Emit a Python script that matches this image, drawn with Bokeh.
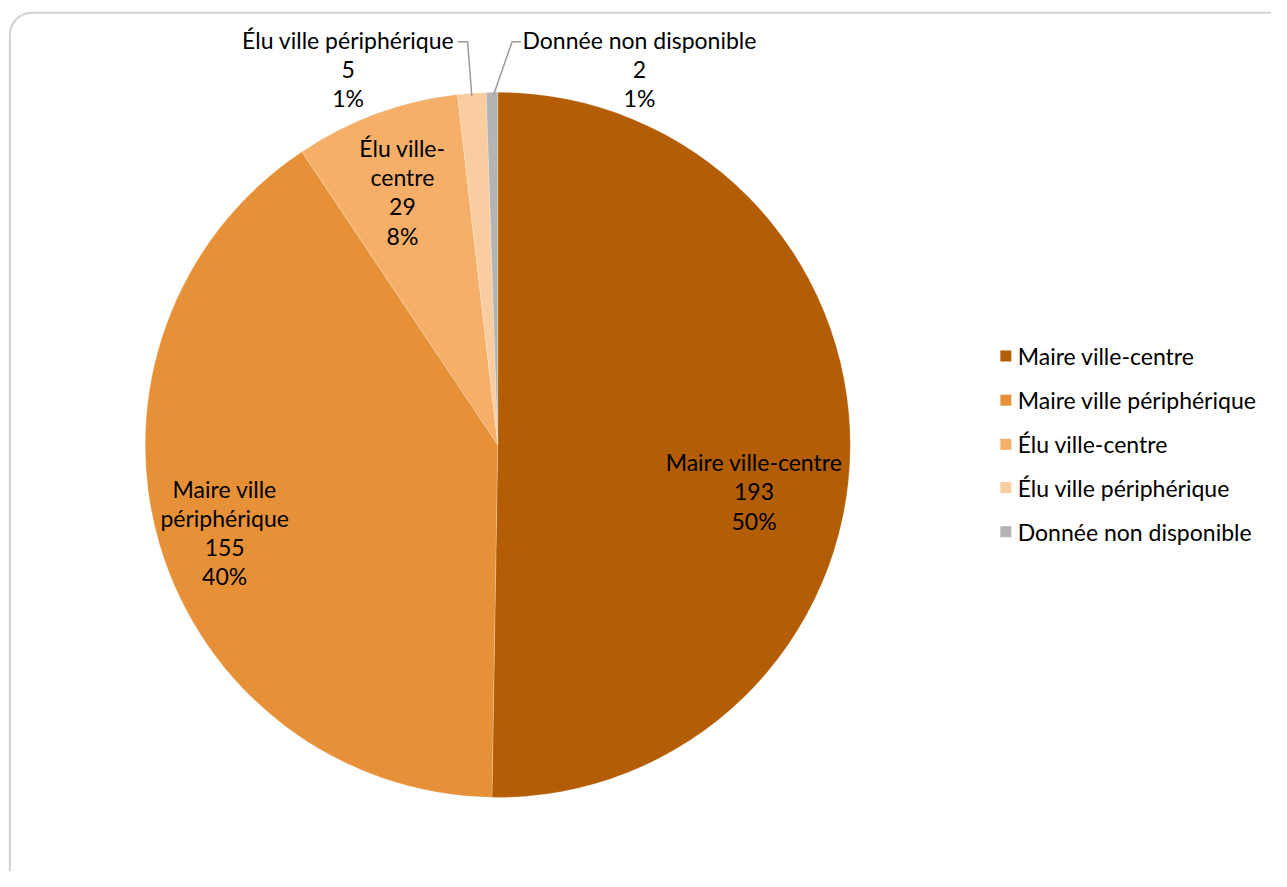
import math
from bokeh.plotting import figure
from bokeh.models import Range1d, ColumnDataSource
from bokeh.core.properties import value
from bokeh.embed import file_html
from bokeh.resources import INLINE

# ---- data ----
categories = ["Maire ville-centre", "Maire ville périphérique", "Élu ville-centre",
              "Élu ville périphérique", "Donnée non disponible"]
counts = [193, 155, 29, 5, 2]
colors = ["#B35D05", "#E69138", "#F5AF69", "#F9CDA0", "#B4B4B4"]
slice_label_lines = [["Maire ville-centre"], ["Maire ville", "périphérique"],
                     ["Élu ville-", "centre"], ["Élu ville périphérique"],
                     ["Donnée non disponible"]]

# ---- layout (reference pixel coordinates, scaled to canvas) ----
W, H = 1271, 871
REF_W, REF_H = 1287, 887
SX, SY = W / REF_W, H / REF_H
FONT = "Lato"
FS = "23px"
def px(x):
    return x * SX
def py(y):
    return H - y * SY

CX, CY, R = 503.5, 452.5, 357
label_pos = [(763, 470), (227, 497), (407, 150), (352, 40), (647, 40)]
LINE_H = 29.8

total = sum(counts)
pcts = [f"{round(c / total * 100)}%" for c in counts]

p = figure(width=W, height=H, output_backend="svg", toolbar_location=None,
           x_range=Range1d(0, W), y_range=Range1d(0, H),
           x_axis_location=None, y_axis_location=None, min_border=0)
p.grid.visible = False
p.outline_line_color = None
p.background_fill_color = "white"
p.border_fill_color = "white"

# frame (rounded corner, clipped at right/bottom)
fr_l, fr_t, rad = px(9.5), py(12.5), 22
fc = "#d2d2d2"
p.line([fr_l, fr_l], [fr_t - rad, -20], line_color=fc, line_width=2)
p.line([fr_l + rad, W + 20], [fr_t, fr_t], line_color=fc, line_width=2)
p.arc(x=fr_l + rad, y=fr_t - rad, radius=rad, start_angle=math.pi / 2, end_angle=math.pi,
      line_color=fc, line_width=2)

# wedges
cum = [0]
for c in counts:
    cum.append(cum[-1] + c)
starts = [math.pi / 2 - cum[i + 1] / total * 2 * math.pi for i in range(len(counts))]
ends = [math.pi / 2 - cum[i] / total * 2 * math.pi for i in range(len(counts))]
src = ColumnDataSource(dict(start=starts, end=ends, color=colors))
p.wedge(x=px(CX), y=py(CY), radius=R * SX, start_angle="start", end_angle="end",
        direction="anticlock", fill_color="color", line_color="white", line_width=0.5,
        line_alpha=0.4, source=src)

# leader lines for small slices
def edge_point(i):
    mid = (cum[i] + cum[i + 1]) / 2 / total
    th = mid * 2 * math.pi
    return CX + R * math.sin(th), CY - R * math.cos(th)

lc = "#9a9a9a"
ex, ey = edge_point(3)
p.line([px(463), px(473), px(ex)], [py(42), py(42), py(ey + 1)], line_color=lc, line_width=1.5)
ex, ey = edge_point(4)
p.line([px(527), px(518), px(ex + 1.5)], [py(42), py(42), py(ey + 1)], line_color=lc, line_width=1.5)

# slice labels
xs, ys, ts = [], [], []
for i, (lx, ly) in enumerate(label_pos):
    lines = slice_label_lines[i] + [str(counts[i]), pcts[i]]
    for k, t in enumerate(lines):
        xs.append(px(lx))
        ys.append(py(ly + k * LINE_H))
        ts.append(t)
p.text(x=xs, y=ys, text=ts, text_align="center", text_baseline="middle",
       text_font=value(FONT), text_font_size=FS, text_color="#000000")

# legend
leg_y = [362, 407, 452, 496, 541]
p.scatter(x=[px(1018)] * 5, y=[py(v) for v in leg_y], marker="square", size=11,
          fill_color=colors, line_color=None)
p.text(x=[px(1030)] * 5, y=[py(v) for v in leg_y], text=categories, text_align="left",
       text_baseline="middle", text_font=value(FONT), text_font_size=FS, text_color="#000000")

open("out.html", "w").write(file_html(p, INLINE))
